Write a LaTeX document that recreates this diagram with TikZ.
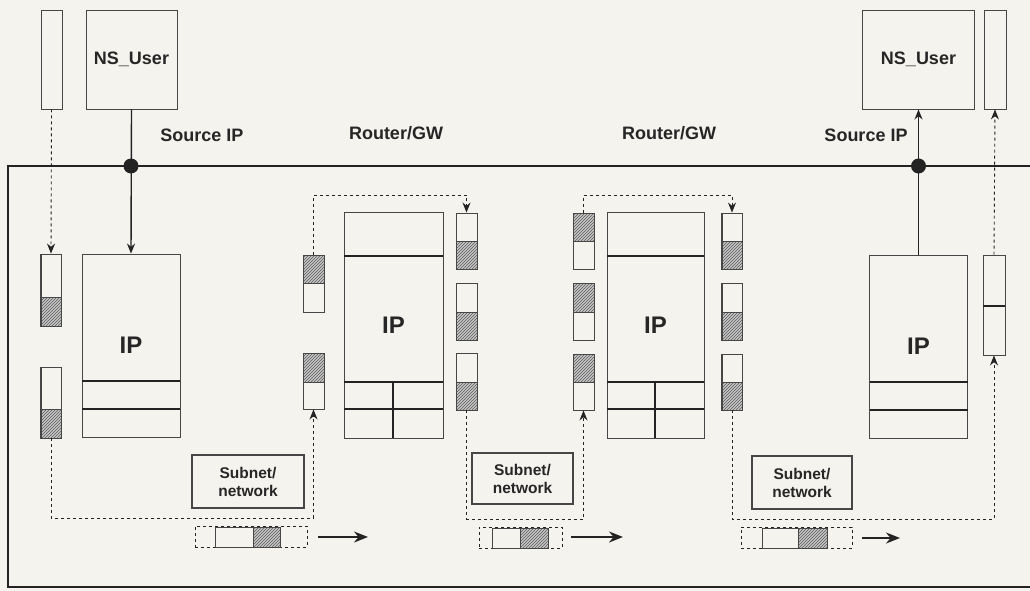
\documentclass[tikz,border=0pt]{standalone}
\usepackage{fontspec}
\setmainfont{Liberation Sans}
\usetikzlibrary{arrows.meta,patterns}
\definecolor{paper}{RGB}{245,243,238}
\definecolor{ink}{RGB}{35,35,35}
\definecolor{boxline}{RGB}{70,70,70}
\tikzset{
  box/.style={draw=boxline, line width=0.9pt, inner sep=0pt},
  pk/.style={draw=boxline, line width=0.9pt, inner sep=0pt, minimum width=21pt},
  lbl/.style={font=\bfseries\fontsize{18}{20}\selectfont, text=black!85},
  iplbl/.style={font=\bfseries\fontsize{24}{26}\selectfont, text=black!85},
  sublbl/.style={font=\bfseries\fontsize{15.5}{18}\selectfont, text=black!85, align=center},
  hatch/.style={fill=gray!45, postaction={pattern=north east lines, pattern color=ink!75}},
  dsh/.style={draw=ink, line width=0.9pt, dash pattern=on 3pt off 3pt},
  tip/.style={-{Stealth[length=10pt,width=8pt]}},
  bigtip/.style={-{Stealth[length=14pt,width=11pt]}, line width=1.8pt, draw=ink},
  frame/.style={line width=1.6pt, draw=ink},
  divline/.style={line width=1.8pt, draw=ink},
  link/.style={line width=1.4pt, draw=ink},
  dot/.style={circle, fill=ink, inner sep=0pt, minimum size=15pt}
}
\begin{document}
\begin{tikzpicture}[x=1pt,y=-1pt]
\fill[paper] (0,0) rectangle (1030,591);
\useasboundingbox (0,0) rectangle (1030,591);

% frame
\draw[frame] (1030,166) -- (8,166) -- (8,587) -- (1030,587);

% ---------- left end system ----------
\node[box, minimum width=21pt, minimum height=99pt] (lbuf) at (51.5,59.5) {};
\node[box, minimum width=91pt, minimum height=99pt, lbl] (lusr) at (131.5,59.5) {NS\_User};
\node[lbl] (srcL) at (202,135) {Source IP};
\node[box, minimum width=98pt, minimum height=183pt, iplbl] (lip) at (131,345.5) {IP};
\draw[divline] (82,381) -- (180,381);
\draw[divline] (82,409) -- (180,409);
\node[dot] (dL) at (131,166) {};
\draw[link, tip] (lusr.south) -- (lip.north);

\node[pk, minimum height=72pt] (L1) at (51,290) {};
\fill[hatch] (41,297) rectangle (61,326);
\draw[boxline, line width=0.9pt] (41,254) rectangle (61,326) (41,297) -- (61,297);
\node[pk, minimum height=71pt] (L2) at (51,402.5) {};
\fill[hatch] (41,409) rectangle (61,438);
\draw[boxline, line width=0.9pt] (41,367) rectangle (61,438) (41,409) -- (61,409);
\draw[dsh, tip] (lbuf.south) -- (L1.north);

% ---------- router 1 ----------
\node[lbl] (rg1) at (396,133) {Router/GW};
\node[box, minimum width=99pt, minimum height=226pt, iplbl] (r1ip) at (393.5,325) {IP};
\draw[divline] (344,256) -- (443,256);
\draw[divline] (344,382) -- (443,382);
\draw[divline] (344,409) -- (443,409);
\draw[divline] (393,382) -- (393,438);

\node[pk, minimum height=57pt] (R1L1) at (313.5,283.5) {};
\fill[hatch] (303,255) rectangle (324,283);
\draw[boxline, line width=0.9pt] (303,255) rectangle (324,312) (303,283) -- (324,283);
\node[pk, minimum height=56pt] (R1L2) at (313.5,381) {};
\fill[hatch] (303,353) rectangle (324,382);
\draw[boxline, line width=0.9pt] (303,353) rectangle (324,409) (303,382) -- (324,382);

\node[pk, minimum height=56pt] (R1R1) at (466.5,241) {};
\fill[hatch] (456,241) rectangle (477,269);
\draw[boxline, line width=0.9pt] (456,213) rectangle (477,269) (456,241) -- (477,241);
\node[pk, minimum height=57pt] (R1R2) at (466.5,311.5) {};
\fill[hatch] (456,312) rectangle (477,340);
\draw[boxline, line width=0.9pt] (456,283) rectangle (477,340) (456,312) -- (477,312);
\node[pk, minimum height=57pt] (R1R3) at (466.5,381.5) {};
\fill[hatch] (456,382) rectangle (477,410);
\draw[boxline, line width=0.9pt] (456,353) rectangle (477,410) (456,382) -- (477,382);

% ---------- router 2 ----------
\node[lbl] (rg2) at (669,133) {Router/GW};
\node[box, minimum width=97pt, minimum height=226pt, iplbl] (r2ip) at (655.5,325) {IP};
\draw[divline] (607,256) -- (704,256);
\draw[divline] (607,382) -- (704,382);
\draw[divline] (607,409) -- (704,409);
\draw[divline] (655,382) -- (655,438);

\node[pk, minimum height=56pt] (R2L1) at (583.5,241) {};
\fill[hatch] (573,213) rectangle (594,241);
\draw[boxline, line width=0.9pt] (573,213) rectangle (594,269) (573,241) -- (594,241);
\node[pk, minimum height=57pt] (R2L2) at (583.5,311.5) {};
\fill[hatch] (573,283) rectangle (594,312);
\draw[boxline, line width=0.9pt] (573,283) rectangle (594,340) (573,312) -- (594,312);
\node[pk, minimum height=56pt] (R2L3) at (583.5,382) {};
\fill[hatch] (573,354) rectangle (594,382);
\draw[boxline, line width=0.9pt] (573,354) rectangle (594,410) (573,382) -- (594,382);

\node[pk, minimum height=56pt] (R2R1) at (732,241) {};
\fill[hatch] (722,241) rectangle (742,269);
\draw[boxline, line width=0.9pt] (722,213) rectangle (742,269) (722,241) -- (742,241);
\node[pk, minimum height=57pt] (R2R2) at (732,311.5) {};
\fill[hatch] (722,312) rectangle (742,340);
\draw[boxline, line width=0.9pt] (722,283) rectangle (742,340) (722,312) -- (742,312);
\node[pk, minimum height=56pt] (R2R3) at (732,382) {};
\fill[hatch] (722,382) rectangle (742,410);
\draw[boxline, line width=0.9pt] (722,354) rectangle (742,410) (722,382) -- (742,382);

% ---------- right end system ----------
\node[box, minimum width=112pt, minimum height=99pt, lbl] (rusr) at (918.5,59.5) {NS\_User};
\node[box, minimum width=22pt, minimum height=99pt] (rbuf) at (995,59.5) {};
\node[lbl] (srcR) at (866,135) {Source IP};
\node[box, minimum width=98pt, minimum height=183pt, iplbl] (rip) at (918.5,346.5) {IP};
\draw[divline] (870,382) -- (968,382);
\draw[divline] (870,410) -- (968,410);
\node[dot] (dR) at (918.5,166) {};
\draw[link, tip] (rip.north) -- (rusr.south);
\node[pk, minimum width=22pt, minimum height=100pt] (DR) at (994,305) {};
\draw[line width=1.5pt, draw=ink] (983,306) -- (1005,306);
\draw[dsh, tip] (DR.north) -- (rbuf.south);

% ---------- dashed packet paths ----------
\draw[dsh, tip] (L2.south) -- (L2.south |- 0,518) -| (R1L2.south);
\draw[dsh, tip] (R1L1.north) -- (R1L1.north |- 0,195) -| (R1R1.north);
\draw[dsh, tip] (R1R3.south) -- (R1R3.south |- 0,519) -| (R2L3.south);
\draw[dsh, tip] (R2L1.north) -- (R2L1.north |- 0,195) -| (R2R1.north);
\draw[dsh, tip] (R2R3.south) -- (R2R3.south |- 0,519) -| (DR.south);

% ---------- subnets ----------
\node[box, line width=1.1pt, minimum width=112pt, minimum height=53pt, sublbl] (sn1) at (248,481.5) {Subnet/\\network};
\node[box, line width=1.1pt, minimum width=101pt, minimum height=51pt, sublbl] (sn2) at (522.5,478.5) {Subnet/\\network};
\node[box, line width=1.1pt, minimum width=100pt, minimum height=53pt, sublbl] (sn3) at (802,482.5) {Subnet/\\network};

% ---------- packets in transit ----------
\node[dsh, minimum width=112pt, minimum height=21pt, inner sep=0pt] (p1) at (251,536.5) {};
\fill[hatch] (253,527) rectangle (280,547);
\draw[boxline, line width=1pt] (215,527) rectangle (280,547) (253,527) -- (253,547);
\node[dsh, minimum width=83pt, minimum height=21pt, inner sep=0pt] (p2) at (520.5,537.5) {};
\fill[hatch] (520,528) rectangle (548,548);
\draw[boxline, line width=1pt] (492,528) rectangle (548,548) (520,528) -- (520,548);
\node[dsh, minimum width=111pt, minimum height=21pt, inner sep=0pt] (p3) at (796.5,537.5) {};
\fill[hatch] (798,528) rectangle (827,548);
\draw[boxline, line width=1pt] (762,528) rectangle (827,548) (798,528) -- (798,548);

\coordinate (a1s) at (318,537); \coordinate (a1e) at (368,537);
\coordinate (a2s) at (571,537); \coordinate (a2e) at (623,537);
\coordinate (a3s) at (862,538); \coordinate (a3e) at (900,538);
\draw[bigtip] (a1s) -- (a1e);
\draw[bigtip] (a2s) -- (a2e);
\draw[bigtip] (a3s) -- (a3e);
\end{tikzpicture}
\end{document}
